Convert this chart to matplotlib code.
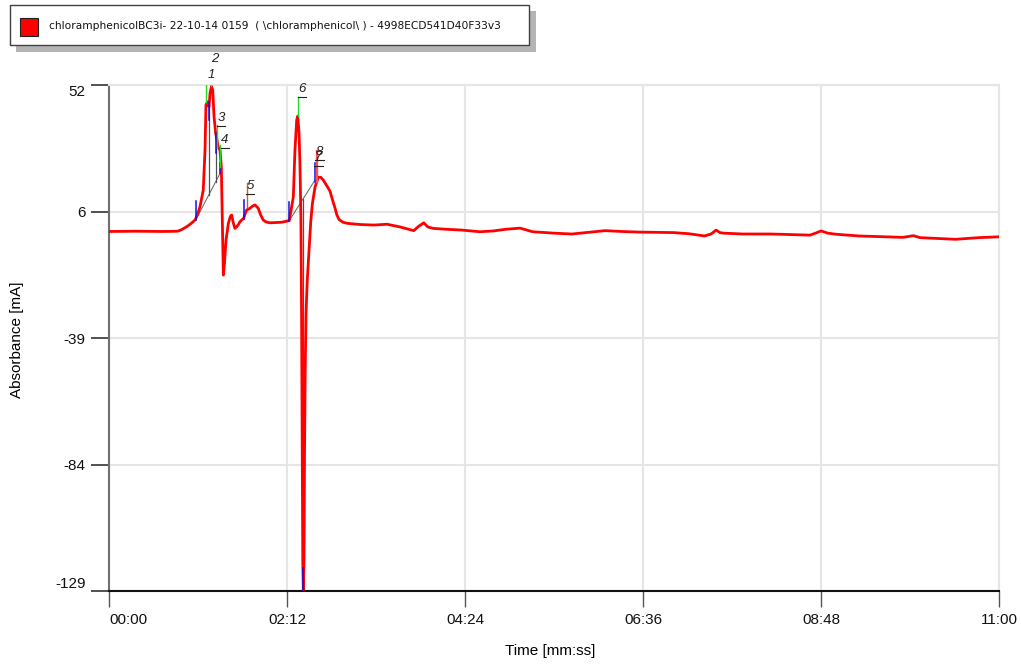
import matplotlib
matplotlib.use("Agg")
import matplotlib.pyplot as plt
from matplotlib.patches import Rectangle
import numpy as np

# ---- trace: time [s], absorbance [mA] ----
time_s = [0, 20, 40, 51, 54, 57.6, 61, 63.8, 65.5, 67.5, 69.9, 71.2, 71.9, 72.9,
          74.2, 74.9, 76.0, 76.9, 77.9, 79.1, 79.9, 81.0, 82.3, 83.3, 84.0,
          84.8, 85.6, 86.8, 88.5, 90.0, 91.0, 92.0, 93.4, 94.5, 95.9, 97.0,
          98.4, 99.9, 101.0, 102.1, 104.6, 106.5, 108.3, 110.7, 112.5, 114.4,
          116.5, 119.4, 128.1, 131.0, 133.7, 135.3, 136.7, 137.9, 139.2, 140.0,
          140.9, 141.6, 142.3, 142.8, 143.3, 143.7, 144.1, 144.6, 145.0, 145.5,
          146.1, 147.0, 148.5, 149.6, 150.8, 152.8, 155.2, 157.0, 158.9, 161.5,
          163.9, 166.0, 167.6, 169.0, 170.6, 173.5, 176.9, 186, 196.5, 206.2,
          216, 226, 229.5, 233.4, 236.5, 240.6, 250, 261.8, 275.1, 285, 294.4,
          304.8, 314.2, 330, 343.4, 359.7, 367.8, 380, 392.3, 418.7, 430, 441.6,
          446.5, 450.2, 453, 456.1, 470, 490.5, 505, 519.8, 524.5, 528, 533,
          539.6, 555.9, 575, 588.6, 596.7, 601.4, 615, 627.8, 645, 660]
absorb = [-0.4, -0.3, -0.4, -0.3, 0.3, 1.3, 2.5, 3.7, 5.5, 8.5, 14.4, 28.7, 44.8, 46.0,
          44.2, 49.0, 51.5, 50.2, 40.7, 34.7, 32.9, 29.9, 28.7, 22.8, 4.9,
          -16.0, -12.0, -3.4, 2.5, 5.0, 5.5, 3.0, 0.7, 1.2, 2.0, 3.0,
          3.7, 4.3, 6.0, 7.3, 7.9, 8.7, 9.1, 7.9, 5.5, 3.7,
          3.0, 2.7, 2.9, 3.2, 3.5, 8.0, 12.0, 28.7, 39.5, 40.9,
          35.0, 24.0, 5.0, -30.0, -80.0, -118.0, -128.6, -118.0, -80.0, -50.0,
          -30.0, -18.0, -6.0, 3.0, 9.5, 15.5, 19.0, 19.0, 18.0, 16.0,
          14.0, 10.5, 8.0, 5.5, 3.9, 2.9, 2.5, 2.1, 1.9, 2.2,
          1.2, -0.1, 1.4, 2.7, 1.2, 0.7, 0.4, 0.1, -0.5, -0.2, 0.4,
          0.8, -0.5, -1.0, -1.3, -0.5, -0.1, -0.4, -0.6, -0.8, -1.2, -2.0,
          -1.3, 0.1, -0.8, -1.0, -1.3, -1.3, -1.5, -1.7, -0.9, -0.2, -1.0,
          -1.4, -2.0, -2.3, -2.5, -1.9, -2.6, -2.9, -3.2, -2.6, -2.3]

# ---- peak apex markers and labels ----
peak_names = ["1", "2", "3", "4", "5", "6", "7", "8"]
peak_t = [72.2, 75.8, 79.9, 82.3, 102.1, 139.9, 153.6, 154.2]
peak_v = [46.0, 51.5, 30.0, 22.8, 8.5, 40.9, 17.4, 17.4]
peak_top = [52.6, 59.2, 37.7, 30.5, 16.8, 47.8, 28.7, 28.7]
peak_colors = ["#22dd22", "#22dd22", "#22dd22", "#22dd22", "#cc6600",
               "#22dd22", "#ff5050", "#ff5050"]
label_t = [75.6, 78.6, 83.1, 86.0, 104.6, 143.1, 155.4, 156.2]
label_v = [55.6, 61.3, 40.2, 32.3, 15.9, 50.6, 26.2, 28.0]

# ---- integration marks (blue) ----
mark_t = [64.3, 99.9, 133.7, 73.9, 79.1, 82.3, 144.1, 152.8]
mark_lo = [3.7, 4.1, 3.5, 39.5, 27.7, 20.5, -128.6, 17.4]
mark_hi = [10.5, 11.0, 10.1, 46.0, 34.8, 24.1, -120.8, 24.1]

# ---- baselines and drop lines (gray) ----
base_t = [[64.3, 83.0], [133.7, 152.8]]
base_v = [[3.7, 21.0], [3.5, 18.0]]
drop_t = [73.9, 79.1, 82.3, 144.1]
drop_lo = [12.6, 17.4, 20.4, -128.6]
drop_hi = [44.0, 34.7, 28.7, 11.4]

xticks = [0, 132, 264, 396, 528, 660]
xlabels = ["00:00", "02:12", "04:24", "06:36", "08:48", "11:00"]
yticks = np.linspace(-129, 52, 5)
ylabels = ["-129", "-84", "-39", "6", "52"]

legend_text = "chloramphenicolBC3i- 22-10-14 0159  ( \\chloramphenicol\\ ) - 4998ECD541D40F33v3"

W, H = 1021, 666
plt.rcParams["font.family"] = ["Liberation Sans", "DejaVu Sans"]
fig = plt.figure(figsize=(W / 100, H / 100), dpi=100)
ax = fig.add_axes([109 / W, (H - 591) / H, 890 / W, 506 / H])

ax.set_xlim(0, 660)
ax.set_ylim(-129, 52)

ax.grid(True, color="#e6e6e6", lw=1.5)
ax.set_axisbelow(True)

for bt, bv in zip(base_t, base_v):
    ax.plot(bt, bv, color="#606060", lw=0.7, zorder=2)
for t, lo, hi in zip(drop_t, drop_lo, drop_hi):
    ax.plot([t, t], [lo, hi], color="#505050", lw=0.9, zorder=2)

ax.plot(time_s, absorb, color="#ff0000", lw=2.0, zorder=3)

for t, lo, hi in zip(mark_t, mark_lo, mark_hi):
    ax.plot([t, t], [lo, hi], color="#1010ee", lw=1.1, zorder=4)

for name, t, v, top, c, lt, lv in zip(peak_names, peak_t, peak_v, peak_top,
                                       peak_colors, label_t, label_v):
    ax.plot([t, t], [v, top], color=c, lw=1.0, zorder=4)
    ax.text(lt, lv, name, fontsize=9.5, style="italic", ha="center", va="center",
            color="#222222", zorder=5)
    ax.plot([lt - 3.2, lt + 3.2], [lv - 3.0, lv - 3.0], color="#222222",
            lw=0.8, zorder=5)

for s in ["top", "right"]:
    ax.spines[s].set_color("#e6e6e6")
    ax.spines[s].set_linewidth(1.5)
ax.spines["left"].set_color("#707070")
ax.spines["left"].set_linewidth(1.5)
ax.spines["bottom"].set_color("#111111")
ax.spines["bottom"].set_linewidth(1.5)

ax.set_xticks(xticks)
ax.set_xticklabels(xlabels)
ax.set_yticks(yticks)
ax.set_yticklabels(ylabels)
ax.tick_params(axis="y", length=13, width=1.2, color="#333333", pad=4,
               labelsize=11, labelcolor="#111111")
ax.tick_params(axis="x", length=11.5, width=1.0, color="#555555", pad=4,
               labelsize=11, labelcolor="#111111")
ax.get_xticklabels()[0].set_ha("left")
ax.get_yticklabels()[0].set_va("bottom")
ax.get_yticklabels()[-1].set_va("top")

ax.set_xlabel("Time [mm:ss]", fontsize=11)
ax.xaxis.set_label_coords((550 - 109) / 890, -(651 - 591) / 506)
ax.xaxis.label.set_va("center")
ax.set_ylabel("Absorbance [mA]", fontsize=11)
ax.yaxis.set_label_coords(-(109 - 17) / 890, (591 - 340) / 506)
ax.yaxis.label.set_va("center")


def fx(x, y):
    return x / W, 1 - y / H


# legend box drawn in figure pixels
fig.add_artist(Rectangle(fx(16, 52), 520 / W, 41 / H, transform=fig.transFigure,
                         facecolor="#b4b4b4", edgecolor="none"))
fig.add_artist(Rectangle(fx(10, 45), 519 / W, 40 / H, transform=fig.transFigure,
                         facecolor="white", edgecolor="#404040", lw=1.0))
fig.add_artist(Rectangle(fx(20, 36), 18 / W, 18 / H, transform=fig.transFigure,
                         facecolor="#ff0000", edgecolor="#222222", lw=0.8))
tx, ty = fx(49, 26)
fig.text(tx, ty, legend_text, fontsize=7.7, ha="left", va="center",
         color="#111111", family=["DejaVu Sans"])

fig.savefig("out.png", dpi=100)
